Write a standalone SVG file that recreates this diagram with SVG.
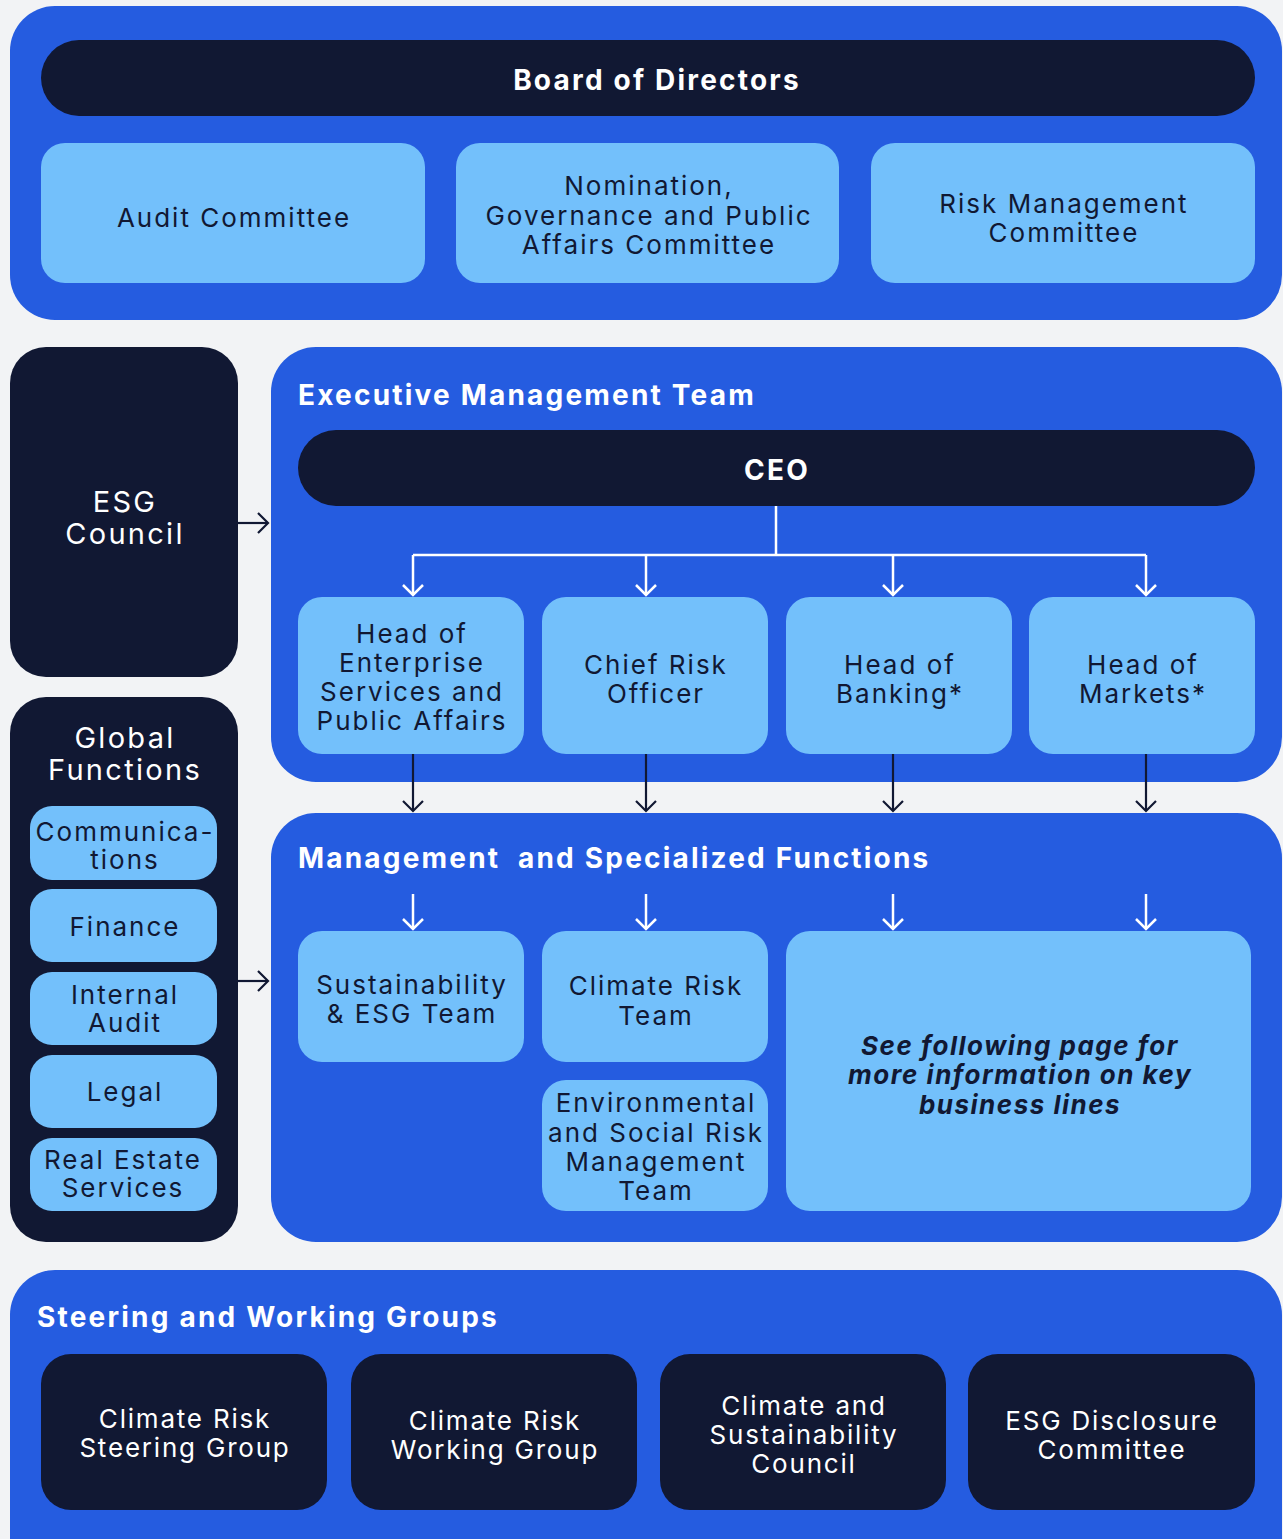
<svg xmlns="http://www.w3.org/2000/svg" width="1283" height="1539" viewBox="0 0 1283 1539">
<style>
.blue{fill:#255CE0}
.dark{fill:#111833}
.lite{fill:#73C0FB}
text{font-family:Inter,"Liberation Sans",sans-serif}
.t{font-size:26px;fill:#111833;text-anchor:middle;letter-spacing:2px}
.tw{font-size:26px;fill:#FFFFFF;text-anchor:middle;letter-spacing:1.8px}
.big{font-size:29px;fill:#FFFFFF;text-anchor:middle;letter-spacing:2.3px}
.h{font-size:28px;font-weight:700;fill:#FFFFFF;letter-spacing:2.2px}
.hc{font-size:28px;font-weight:700;fill:#FFFFFF;text-anchor:middle;letter-spacing:2.2px}
.it{font-size:26px;font-weight:700;font-style:italic;fill:#111833;text-anchor:middle;letter-spacing:1.5px}
.cw{stroke:#FFFFFF;stroke-width:2.5;fill:none}
.cd{stroke:#111833;stroke-width:2.2;fill:none}
</style>
<defs>
<marker id="aw" markerUnits="userSpaceOnUse" viewBox="-12 -12 24 24" markerWidth="24" markerHeight="24" refX="0" refY="0" orient="auto">
<path d="M-10,-10 L0,0 L-10,10" fill="none" stroke="#FFFFFF" stroke-width="2.5"/>
</marker>
<marker id="ad" markerUnits="userSpaceOnUse" viewBox="-12 -12 24 24" markerWidth="24" markerHeight="24" refX="0" refY="0" orient="auto">
<path d="M-10,-10 L0,0 L-10,10" fill="none" stroke="#111833" stroke-width="2.2"/>
</marker>
</defs>
<rect width="1283" height="1539" fill="#F2F3F5"/>

<g id="board-section">
<rect class="blue" x="10" y="6" width="1272" height="314" rx="45"/>
<g id="board">
<rect class="dark" x="41" y="40" width="1214" height="76" rx="38"/>
<text class="hc" x="657" y="90">Board of Directors</text>
</g>
<g id="audit-committee">
<rect class="lite" x="41" y="143" width="384" height="140" rx="24"/>
<text class="t" x="234" y="227">Audit Committee</text>
</g>
<g id="nomination-committee">
<rect class="lite" x="456" y="143" width="383" height="140" rx="24"/>
<text class="t" x="649" y="195">Nomination,</text>
<text class="t" x="649" y="225">Governance and Public</text>
<text class="t" x="649" y="254">Affairs Committee</text>
</g>
<g id="risk-committee">
<rect class="lite" x="871" y="143" width="384" height="140" rx="24"/>
<text class="t" x="1064" y="213">Risk Management</text>
<text class="t" x="1064" y="242">Committee</text>
</g>
</g>

<g id="esg-council">
<rect class="dark" x="10" y="347" width="228" height="330" rx="36"/>
<text class="big" x="125" y="512">ESG</text>
<text class="big" x="125" y="544">Council</text>
</g>

<g id="global-functions">
<rect class="dark" x="10" y="697" width="228" height="545" rx="36"/>
<text class="big" x="125" y="748">Global</text>
<text class="big" x="125" y="780">Functions</text>
<g id="communications">
<rect class="lite" x="30" y="806" width="187" height="74" rx="22"/>
<text class="t" x="125" y="841">Communica-</text>
<text class="t" x="125" y="869">tions</text>
</g>
<g id="finance">
<rect class="lite" x="30" y="889" width="187" height="73" rx="22"/>
<text class="t" x="125" y="936">Finance</text>
</g>
<g id="internal-audit">
<rect class="lite" x="30" y="972" width="187" height="73" rx="22"/>
<text class="t" x="125" y="1004">Internal</text>
<text class="t" x="125" y="1032">Audit</text>
</g>
<g id="legal">
<rect class="lite" x="30" y="1055" width="187" height="73" rx="22"/>
<text class="t" x="125" y="1101">Legal</text>
</g>
<g id="real-estate">
<rect class="lite" x="30" y="1138" width="187" height="73" rx="22"/>
<text class="t" x="123" y="1169">Real Estate</text>
<text class="t" x="123" y="1197">Services</text>
</g>
</g>

<g id="executive-management">
<rect class="blue" x="271" y="347" width="1011" height="435" rx="45"/>
<text class="h" x="298" y="405">Executive Management Team</text>
<g id="ceo">
<rect class="dark" x="298" y="430" width="957" height="76" rx="38"/>
<text class="hc" x="777" y="480">CEO</text>
</g>
<g id="head-enterprise">
<rect class="lite" x="298" y="597" width="226" height="157" rx="24"/>
<text class="t" x="412" y="643">Head of</text>
<text class="t" x="412" y="672">Enterprise</text>
<text class="t" x="412" y="701">Services and</text>
<text class="t" x="412" y="730">Public Affairs</text>
</g>
<g id="cro">
<rect class="lite" x="542" y="597" width="226" height="157" rx="24"/>
<text class="t" x="656" y="674">Chief Risk</text>
<text class="t" x="656" y="703">Officer</text>
</g>
<g id="head-banking">
<rect class="lite" x="786" y="597" width="226" height="157" rx="24"/>
<text class="t" x="900" y="674">Head of</text>
<text class="t" x="900" y="703">Banking*</text>
</g>
<g id="head-markets">
<rect class="lite" x="1029" y="597" width="226" height="157" rx="24"/>
<text class="t" x="1143" y="674">Head of</text>
<text class="t" x="1143" y="703">Markets*</text>
</g>
</g>

<g id="management-functions">
<rect class="blue" x="271" y="813" width="1011" height="429" rx="45"/>
<text class="h" x="298" y="868" xml:space="preserve">Management  and Specialized Functions</text>
<g id="sustainability-team">
<rect class="lite" x="298" y="931" width="226" height="131" rx="24"/>
<text class="t" x="412" y="994">Sustainability</text>
<text class="t" x="412" y="1023">&amp; ESG Team</text>
</g>
<g id="climate-risk-team">
<rect class="lite" x="542" y="931" width="226" height="131" rx="24"/>
<text class="t" x="656" y="995">Climate Risk</text>
<text class="t" x="656" y="1025">Team</text>
</g>
<g id="es-risk-team">
<rect class="lite" x="542" y="1080" width="226" height="131" rx="24"/>
<text class="t" x="656" y="1112">Environmental</text>
<text class="t" x="656" y="1142">and Social Risk</text>
<text class="t" x="656" y="1171">Management</text>
<text class="t" x="656" y="1200">Team</text>
</g>
<g id="business-lines">
<rect class="lite" x="786" y="931" width="465" height="280" rx="24"/>
<text class="it" x="1020" y="1055">See following page for</text>
<text class="it" x="1020" y="1084">more information on key</text>
<text class="it" x="1020" y="1114">business lines</text>
</g>
</g>

<g id="steering-groups">
<rect class="blue" x="10" y="1270" width="1272" height="320" rx="45"/>
<text class="h" x="37" y="1327">Steering and Working Groups</text>
<g id="cr-steering">
<rect class="dark" x="41" y="1354" width="286" height="156" rx="30"/>
<text class="tw" x="185" y="1428">Climate Risk</text>
<text class="tw" x="185" y="1457">Steering Group</text>
</g>
<g id="cr-working">
<rect class="dark" x="351" y="1354" width="286" height="156" rx="30"/>
<text class="tw" x="495" y="1430">Climate Risk</text>
<text class="tw" x="495" y="1459">Working Group</text>
</g>
<g id="cs-council">
<rect class="dark" x="660" y="1354" width="286" height="156" rx="30"/>
<text class="tw" x="804" y="1415">Climate and</text>
<text class="tw" x="804" y="1444">Sustainability</text>
<text class="tw" x="804" y="1473">Council</text>
</g>
<g id="esg-disclosure">
<rect class="dark" x="968" y="1354" width="287" height="156" rx="30"/>
<text class="tw" x="1112" y="1430">ESG Disclosure</text>
<text class="tw" x="1112" y="1459">Committee</text>
</g>
</g>

<g id="connectors">
<path class="cw" d="M776,506 V555 M413,555 H1146"/>
<path class="cw" d="M413,555 V595" marker-end="url(#aw)"/>
<path class="cw" d="M646,555 V595" marker-end="url(#aw)"/>
<path class="cw" d="M893,555 V595" marker-end="url(#aw)"/>
<path class="cw" d="M1146,555 V595" marker-end="url(#aw)"/>
<path class="cd" d="M413,754 V811" marker-end="url(#ad)"/>
<path class="cd" d="M646,754 V811" marker-end="url(#ad)"/>
<path class="cd" d="M893,754 V811" marker-end="url(#ad)"/>
<path class="cd" d="M1146,754 V811" marker-end="url(#ad)"/>
<path class="cw" d="M413,894 V929" marker-end="url(#aw)"/>
<path class="cw" d="M646,894 V929" marker-end="url(#aw)"/>
<path class="cw" d="M893,894 V929" marker-end="url(#aw)"/>
<path class="cw" d="M1146,894 V929" marker-end="url(#aw)"/>
<path class="cd" d="M238,523 H268" marker-end="url(#ad)"/>
<path class="cd" d="M238,981 H268" marker-end="url(#ad)"/>
</g>
</svg>
